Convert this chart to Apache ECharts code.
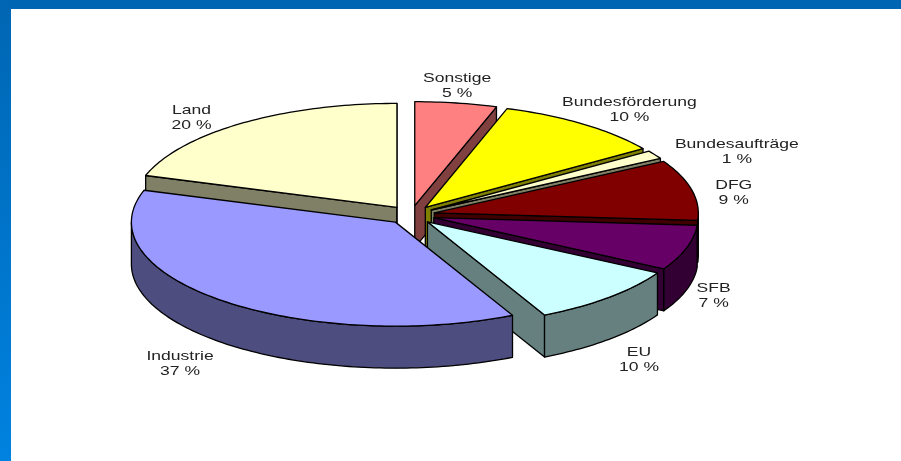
<!DOCTYPE html>
<html>
<head>
<meta charset="utf-8">
<script src="https://cdn.jsdelivr.net/npm/echarts@6/dist/echarts.min.js"></script>
<style>html,body{margin:0;padding:0;background:#fff}#c{width:901px;height:461px}</style>
</head>
<body>
<div id="c"></div>
<script>
// Data, in drawing order from the back to the front
const categories = ['Land', 'Sonstige', 'Bundesförderung', 'Bundesaufträge', 'DFG', 'SFB', 'EU', 'Industrie'];
const values = [20, 5, 10.4, 1.3, 9.4, 7, 9.5, 37.2];
const topColors = ['#FFFFCC', '#FF8080', '#FFFF00', '#FFFFCC', '#800000', '#660066', '#CCFFFF', '#9999FF'];
const sideColors = ['#808066', '#804040', '#808000', '#808066', '#400000', '#330033', '#668080', '#4D4D80'];
// Label offset from the middle of each slice's rim
const labelOffsets = [[-50, -6], [1, -17], [46, -14], [82, -3], [42, 3], [27, 48], [30, 62], [-43, 63]];
// Clockwise order in which the slices sit on the pie
const ringOrder = ['Sonstige', 'Bundesförderung', 'Bundesaufträge', 'DFG', 'SFB', 'EU', 'Industrie', 'Land'];

// Pie projection
const CX = 411, CY = 215, RX = 264, RY = 104, DEPTH = 42, EXPLODE = 0.0905;

const total = values.reduce((s, v) => s + v, 0);
const spans = {};
let run = 0;
ringOrder.forEach(name => {
  const v = values[categories.indexOf(name)];
  spans[name] = [run / total * 2 * Math.PI, (run + v) / total * 2 * Math.PI];
  run += v;
});

function renderItem(params, api) {
  const name = categories[params.dataIndex];
  const i = params.dataIndex;
  const [a0, a1] = spans[name];
  const mid = (a0 + a1) / 2;
  const tx = CX + EXPLODE * RX * Math.sin(mid), ty = CY - EXPLODE * RY * Math.cos(mid);
  const rim = a => [tx + RX * Math.sin(a), ty - RY * Math.cos(a)];
  const down = p => [p[0], p[1] + DEPTH];
  const edge = { stroke: '#000', lineWidth: 1.3, lineJoin: 'round' };
  const children = [];
  const face = (pts, fill) => children.push({ type: 'polygon', shape: { points: pts }, style: Object.assign({ fill }, edge), silent: true });

  // Straight cut faces turned towards the viewer
  if (Math.sin(a0) < 0) face([[tx, ty], rim(a0), down(rim(a0)), [tx, ty + DEPTH]], sideColors[i]);
  if (Math.sin(a1) > 0) face([[tx, ty], rim(a1), down(rim(a1)), [tx, ty + DEPTH]], sideColors[i]);

  // Outer wall for the part of the rim on the near side
  const w0 = Math.max(a0, Math.PI / 2), w1 = Math.min(a1, Math.PI * 1.5);
  if (w1 > w0) {
    const upper = [], lower = [];
    const n = Math.max(4, Math.ceil((w1 - w0) / 0.02));
    for (let k = 0; k <= n; k++) {
      const p = rim(w0 + (w1 - w0) * k / n);
      upper.push(p);
      lower.unshift(down(p));
    }
    face(upper.concat(lower), sideColors[i]);
  }

  // Top surface
  const top = [[tx, ty]];
  const n = Math.max(4, Math.ceil((a1 - a0) / 0.02));
  for (let k = 0; k <= n; k++) top.push(rim(a0 + (a1 - a0) * k / n));
  face(top, topColors[i]);

  // Two-line label
  const lp = [CX + (1 + EXPLODE) * RX * Math.sin(mid) + labelOffsets[i][0],
              CY - (1 + EXPLODE) * RY * Math.cos(mid) + labelOffsets[i][1]];
  children.push({
    type: 'text', x: lp[0], y: lp[1], scaleX: 1.3, scaleY: 1, silent: true, z2: 100,
    style: {
      text: name + '\n' + Math.round(api.value(0)) + ' %',
      fill: '#222222', font: '13.5px "Liberation Sans", Arial, sans-serif',
      lineHeight: 15, align: 'center', verticalAlign: 'middle'
    }
  });
  return { type: 'group', children };
}

const chart = echarts.init(document.getElementById('c'), null, { renderer: 'canvas' });
chart.setOption({
  animation: false,
  backgroundColor: '#fff',
  graphic: [
    { type: 'rect', silent: true, shape: { x: 0, y: 0, width: 901, height: 9 }, style: { fill: '#0066B3' } },
    { type: 'rect', silent: true, shape: { x: 0, y: 0, width: 11, height: 461 },
      style: { fill: new echarts.graphic.LinearGradient(0, 0, 0, 1, [
        { offset: 0, color: '#0066B3' }, { offset: 1, color: '#0082E0' }]) } }
  ],
  series: [{
    type: 'custom',
    coordinateSystem: 'none',
    renderItem,
    data: categories.map((c, i) => ({ name: c, value: [values[i]] }))
  }]
});
</script>
</body>
</html>
